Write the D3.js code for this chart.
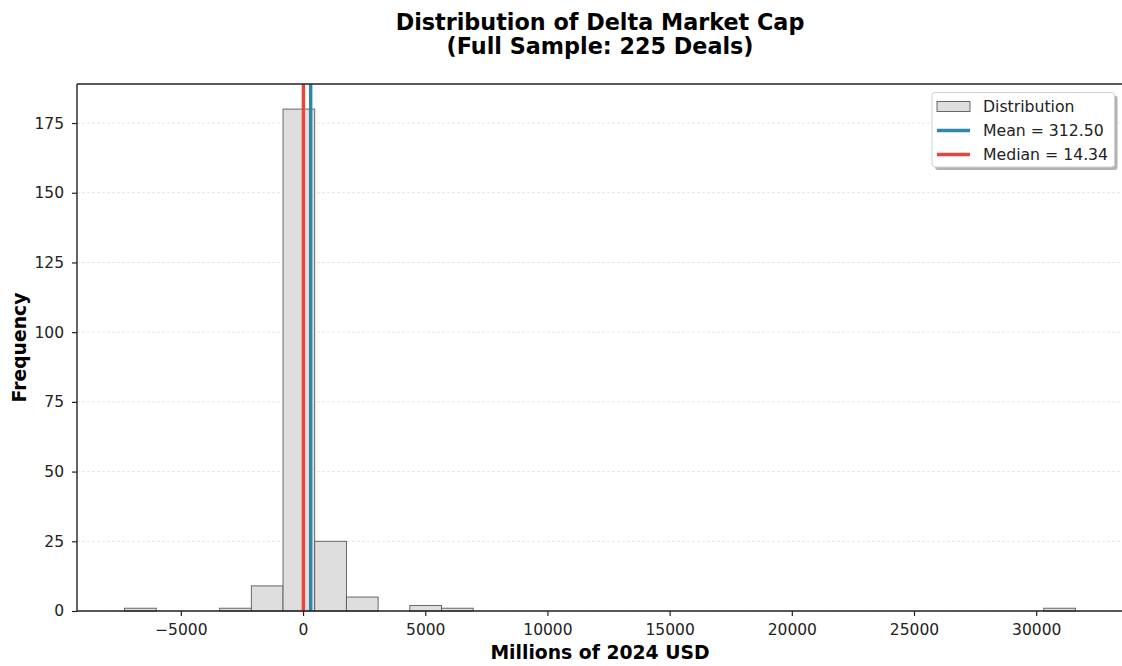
<!DOCTYPE html>
<html>
<head>
<meta charset="utf-8">
<script src="https://cdn.jsdelivr.net/npm/d3@7/dist/d3.min.js"></script>
<style>
  html, body { margin: 0; padding: 0; background: #fff; }
  svg { display: block; font-family: "DejaVu Sans", sans-serif; }
</style>
</head>
<body>
<svg id="chart" width="1122" height="666"></svg>
<script>
// Histogram of delta market cap, 30 equal-width bins
const binLow = -7304;
const binHigh = 31606;
const binCounts = [1, 0, 0, 1, 9, 180, 25, 5, 0, 2, 1, 0, 0, 0, 0, 0, 0, 0, 0, 0, 0, 0, 0, 0, 0, 0, 0, 0, 0, 1];
const meanValue = 312.50;
const medianValue = 14.34;
const xTickValues = [-5000, 0, 5000, 10000, 15000, 20000, 25000, 30000];
const yTickValues = [0, 25, 50, 75, 100, 125, 150, 175];
const titleLines = ["Distribution of Delta Market Cap", "(Full Sample: 225 Deals)"];

const svg = d3.select("#chart");
const margin = { left: 77, right: 1123, top: 84, bottom: 611 };

const nBins = binCounts.length;
const binWidth = (binHigh - binLow) / nBins;
const bins = binCounts.map((c, i) => ({ x0: binLow + i * binWidth, x1: binLow + (i + 1) * binWidth, count: c }));

const pad = (binHigh - binLow) * 0.05;
const x = d3.scaleLinear().domain([binLow - pad, binHigh + pad]).range([margin.left, margin.right]);
const yMax = d3.max(binCounts) * 1.05;
const y = d3.scaleLinear().domain([0, yMax]).range([margin.bottom, margin.top]);

// horizontal grid
svg.append("g")
  .selectAll("line")
  .data(yTickValues)
  .join("line")
  .attr("x1", margin.left).attr("x2", margin.right)
  .attr("y1", d => y(d)).attr("y2", d => y(d))
  .attr("stroke", "#b0b0b0").attr("stroke-opacity", 0.4)
  .attr("stroke-width", 0.8).attr("stroke-dasharray", "3,2");

// bars
svg.append("g")
  .selectAll("rect")
  .data(bins.filter(b => b.count > 0))
  .join("rect")
  .attr("x", d => x(d.x0))
  .attr("width", d => x(d.x1) - x(d.x0))
  .attr("y", d => y(d.count))
  .attr("height", d => y(0) - y(d.count))
  .attr("fill", "#dedede")
  .attr("stroke", "#5a5a5a")
  .attr("stroke-width", 0.9);

// median and mean lines
const refLines = [
  { v: medianValue, color: "#E8453C" },
  { v: meanValue, color: "#2E86AB" }
];
svg.append("g")
  .selectAll("line")
  .data(refLines)
  .join("line")
  .attr("x1", d => x(d.v)).attr("x2", d => x(d.v))
  .attr("y1", margin.top).attr("y2", margin.bottom)
  .attr("stroke", d => d.color)
  .attr("stroke-width", 3.4);

// axes
const fmt = d => (d < 0 ? "\u2212" : "") + Math.abs(d);
const xAxis = svg.append("g")
  .attr("transform", `translate(0,${margin.bottom})`)
  .call(d3.axisBottom(x).tickValues(xTickValues).tickFormat(fmt).tickSize(5).tickPadding(8));
const yAxis = svg.append("g")
  .attr("transform", `translate(${margin.left},0)`)
  .call(d3.axisLeft(y).tickValues(yTickValues).tickFormat(fmt).tickSize(5).tickPadding(8));
[xAxis, yAxis].forEach(g => {
  g.select(".domain").remove();
  g.selectAll(".tick line").attr("stroke", "#222").attr("stroke-width", 1.2);
  g.selectAll(".tick text").attr("font-size", 15.5).attr("fill", "#222")
    .attr("font-family", "DejaVu Sans, sans-serif");
});

// spines
const spine = (x1, y1, x2, y2) => svg.append("line")
  .attr("x1", x1).attr("y1", y1).attr("x2", x2).attr("y2", y2)
  .attr("stroke", "#222").attr("stroke-width", 1.4);
spine(margin.left, margin.top, margin.left, margin.bottom);
spine(margin.left, margin.bottom, margin.right, margin.bottom);
spine(margin.left, margin.top, margin.right, margin.top);
spine(margin.right, margin.top, margin.right, margin.bottom);

// axis labels
const cx = (margin.left + margin.right) / 2;
svg.append("text").attr("x", cx).attr("y", 659).attr("text-anchor", "middle")
  .attr("font-size", 18.8).attr("font-weight", "bold").attr("fill", "#000")
  .text("Millions of 2024 USD");
svg.append("text")
  .attr("transform", `translate(26,${(margin.top + margin.bottom) / 2}) rotate(-90)`)
  .attr("text-anchor", "middle")
  .attr("font-size", 18.8).attr("font-weight", "bold").attr("fill", "#000")
  .text("Frequency");

// title
svg.append("g").selectAll("text").data(titleLines).join("text")
  .attr("x", cx).attr("y", (d, i) => 29.5 + i * 24.5)
  .attr("text-anchor", "middle")
  .attr("font-size", 22.3).attr("font-weight", "bold").attr("fill", "#000")
  .text(d => d);

// legend
const lg = svg.append("g").attr("transform", "translate(932,92.5)");
const lgW = 182.5, lgH = 74.5;
lg.append("rect").attr("x", 3).attr("y", 3).attr("width", lgW).attr("height", lgH)
  .attr("fill", "#8a8a8a").attr("opacity", 0.65).attr("rx", 3);
lg.append("rect").attr("width", lgW).attr("height", lgH)
  .attr("fill", "#fff").attr("stroke", "#cfcfcf").attr("stroke-width", 1).attr("rx", 3);
const legendItems = [
  { label: "Distribution", type: "patch" },
  { label: `Mean = ${meanValue.toFixed(2)}`, type: "line", color: "#2E86AB" },
  { label: `Median = ${medianValue.toFixed(2)}`, type: "line", color: "#E8453C" }
];
legendItems.forEach((it, i) => {
  const cy = 14 + i * 24;
  if (it.type === "patch") {
    lg.append("rect").attr("x", 5).attr("y", cy - 5).attr("width", 33).attr("height", 10)
      .attr("fill", "#dedede").attr("stroke", "#5a5a5a").attr("stroke-width", 0.9);
  } else {
    lg.append("line").attr("x1", 5).attr("x2", 38).attr("y1", cy).attr("y2", cy)
      .attr("stroke", it.color).attr("stroke-width", 3.4);
  }
  lg.append("text").attr("x", 51).attr("y", cy + 5.5).attr("font-size", 15.7).attr("fill", "#222")
    .text(it.label);
});
</script>
</body>
</html>
